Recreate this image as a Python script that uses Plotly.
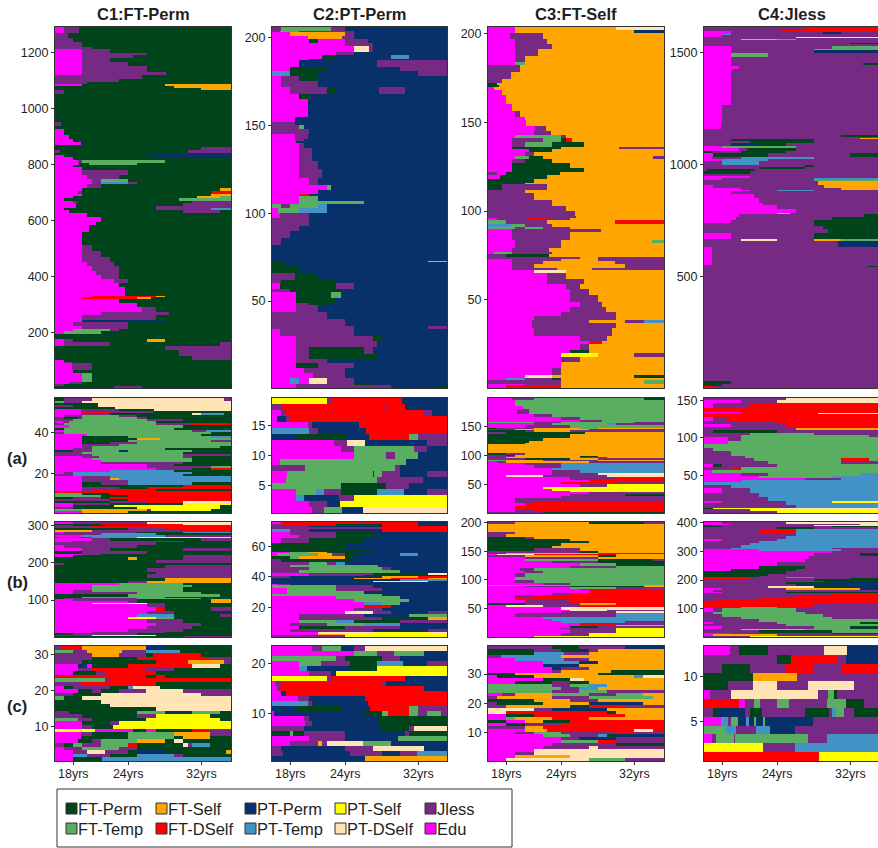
import re
import plotly.graph_objects as go

STATE_KEYS = list("FGSDPTYCJE")
STATE_NAMES = ["FT-Perm", "FT-Temp", "FT-Self", "FT-DSelf", "PT-Perm", "PT-Temp", "PT-Self", "PT-DSelf", "Jless", "Edu"]
STATE_COLORS = ["#00441b", "#5aae61", "#ffa500", "#ff0000", "#08306b", "#4292c6", "#ffff00", "#ffe4b5", "#762a83", "#ff00ff"]
COLUMN_TITLES = ["C1:FT-Perm", "C2:PT-Perm", "C3:FT-Self", "C4:Jless"]
ROW_LABELS = ["(a)", "(b)", "(c)"]
X_TICKS = [18, 24, 32]
X_LABELS = ["18yrs", "24yrs", "32yrs"]

# each row: "<top sequence index> <state><age at which the spell ends> ..."
C1_ROWS = """1290 E17 J18.7 F|1268 J17.4 F|1250 J18 F|1235 J19 F|1220 J20 F|1210 E18.9 J22 F|1198 E18.9 J26 F|1190 E18.9 J24.5 F|1178 E18.9 J22 F
1165 E18.9 J24 F|1150 E18.9 J26 F|1130 E18.9 J28.2 F|1118 J25.5 F|1105 J23 F|1092 J19.5 F|1086 E19 F28 S|1080 F29 S|1072 F32 S|1065 J17 F|1050 F|950 J16.7 F|935 F
925 E17 F|905 E17.5 F|890 E18 F|880 E18.8 F|870 F|860 F32 J|850 J16.5 F30.5 J|840 F26 P|832 E17 F27 P|825 E18 F|815 E18.5 J19 G28 F|805 E18.7 F19.7 G25 F
798 E18 F|790 E18.9 F|780 E18.9 J24 F|770 E18.9 J24 F|760 E19.5 J23 F|748 E20 J21 G24 F|738 E20 J21 T24 J25 F|728 E19.5 J21 F|715 E18.9 F34 S|705 E18.5 J19 F33 D
695 E19 F33 S|688 E18 F31.5 S34 G|680 E17 F29.5 G|668 E18 J18.5 F31 J|660 E18.3 F30 J|650 E18.3 F27 J|643 E17 F27 J33 T|637 E17.5 F30 J34 F|625 E19.5 F
610 E21 F|595 E20.5 F|581 E19.7 F|557 E18.9 F|510 E18.9 J20 F|490 E18.9 J21 F|470 E19 J22 F|450 E19.5 J22.5 F|435 E20 J23 F|420 E20.5 J23 F|405 E21 J23 F
390 E22.5 J24 F|375 E23 F|360 E23.7 F|330 E20 D27 S28 F|325 E19 D25 S26.5 F|320 E23 F|305 E25 F|290 E25.5 J27 F|272 E21 J28.5 F|260 E19 J27 F|245 E18.9 P28 F|235 E18 J24 F
222 E19 J24 F|213 E18 G22 J23 F|205 E17 G21 F|195 F|175 E17 J18 F26 S28 F|165 E17 J22 F34 J|150 F28 J|135 F29.5 J|115 F31 J|100 E17 F|95 E17 J18 F
90 E17.8 J20 F|65 E18 F|55 E18.9 G20 F|22 E17.5 J19 F|15 J17 F|8 F22.5 J25.5 F"""

C2_ROWS = """206 J17 G22.5 J24 P|204 J16.8 G19 J25 P|203 E18 S24 J25 P|201 E19.9 S23.7 J25 P|199 E20 F21 E24 J26.5 P|197 E24 J27 P|195 E25 C26.6 J27 P|192 E23 J25 P|190 E21.5 F23 P29 T31 P
188 E20 F22 P|187 E19 P27.5 J|183 E18 F22 P30 J|181 T18 F21 P32 J|178 E17 J19 F21 P|175 E17 J21 P|172 E18 J22 F23 P27.7 J30.5 P|168 E19 F20 P|165 E19.9 P
155 E18.5 P|152 J18.5 P|150 J19 G19.5 P|148 J20 P|145 E18.5 J19.9 P|142 E18.5 J19.5 P|141 E18.7 P|140 E19 J19.5 P|137 E19 J20.4 P|130 E19 J21 P|125 E19 J21.5 P|120 E20 J21 P
116 E22 G22.5 P|113 E21 P|111 E18.9 D20 P|110 E18.9 G21 P|107 E19 G26 P|105 G17 J18 G21 T22 P|103 E16.7 G19 T22 P|100 E16.8 J20 P|97 J20 P|93 J19 P|90 J18 P|86 J17 P|82 P
73 P33 S|72 F17.5 P|70 F19 P|66 J18.5 F21 P|62 J17 F23 P|60 E16.8 F23 J25 P|57 J18 F23.5 P|55 E18.7 F22.5 G23.5 P|52 E18.7 F23 P|49 E18.7 J20 F22 P|48 E18.7 J21 P
44 J22 P|40 J24 P|36 J25 P33 J|34 E16.8 J25 P|30 E18.7 J27 F28 P|27 E18.7 J27.5 P|24 E18.7 J20 F26 J27 P|20 E18.7 J20 F27.5 P|17 E18.7 J22 P|15 E18.7 F21 J25 P
12 E19.5 J24 P|9 E20.5 J24 P|6 E18 T19 E20 C22 J25 P|3 E18.7 J25 F27 P|2 E18.7 J29 P34 F"""

C3_ROWS = """203 E19 S30 C|202 E19 S31.9 P|200 E18.4 J22 S|197 E18.9 J22.5 S|194 E18.9 J23 S|191 E18.9 J21.5 S|187 E18.9 J20 S|184 E18.9 G20 S|182 J19.5 S|178 J18.5 S|174 J17.5 S
172 F17 S|171 F17.2 S|170 E16.7 S|168 E17.5 S|165 E18 S|160 E18.7 S|156 E19 J19.5 S|153 E20 S|151 E20.2 S|148 E21.2 J22.3 S|145 E21 J22.8 S|143 E19 G24 J24.5 S
141 E18.7 J22 G24 F24.5 D25.2 S|139 E18.7 J20 G23 F26.5 S|136 E18.7 F24 S30.3 J|135 E20.5 F23 S|133 E20 J21 S|131 E19 G20.5 F22 S34 J|129 E18.7 J20 F23 S
127 E18.7 F25 S|124 E18.7 F26.5 S|122 J17 E18 F23.8 S|120 E17.3 F22.5 S|118 F21 S|116 F20 S|115 F17.5 J22.5 S|112 J20 S|110 J21 S|106 J23 S|103 J24.5 S|100 J25.5 S|97 J25.6 S
96 E17 J20.4 D22.5 J25 S|95 G18 J22.5 S29.9 D|93 T18.5 G20 J23 S|91 G19 J20 G22 J25 S|90 E18.7 J28.3 S|88 E18.7 J25 S|84 E19 J24 S33.9 G|82 E19 J24 S|79 E18.7 J22.7 S
77 E16.7 G18.7 J23 S|76 J18 F22.7 S|74 J26 S28 J|73 E18.7 J24 S28 J|72 E18.7 J22 S29.9 J|70 E18.7 J21 S31 J|68 E18.7 J23.5 S27.4 J|67 E21 C24.5 S|65 E22.5 J24.5 S
62 E22.5 J26.5 S|59 E24.5 J26 S|56 E25 J27 S|53 E25 J28 S|49 E26 J28.5 S|46 E25 J28.9 S|43 E24 J30 S|41 E21 J30 S|39 E20.8 J27 S31 J33 T|37 E20.8 J30 S|34 E21 J29.5 S
30 E26 J29 S|27 E27 D28.5 S|25 E26 J27 S|22 E25 F27 S|20 E24 Y28 S32 J|18 E24 J26 S|15 E24 S|12 E23 J24 S|8 E20 C23 S32 F|6 E18 T20 J23 F24 S|5 J24 S33 G|3 E20 J24 S|2 E18 D24 S"""

C4_ROWS = """1618 J27 D|1605 J24.5 D|1598 E18.9 J28 D|1592 E18.9 J29 P31 J|1585 E18 T18.9 J|1578 E18 J|1572 J26 C|1566 J|1562 J20 S24 G26 J|1555 J|1545 J32 F|1540 J|1530 E18.9 J30 G|1515 E18.9 J28 G|1510 E18.9 J28 P|1497 E18.9 G23 J
1480 E18.9 J|1452 E18.9 J33.4 F|1445 E18.9 J|1440 E19.8 J|1425 E18.9 J|1265 E17.9 J|1180 E17.8 J|1160 J|1130 J31 F|1124 J|1120 J33 S|1116 J|1113 J19 F28 J|1105 J21 F28 J
1097 J19 P22 F25 J|1085 E18 G26 J|1075 E19.8 J20.7 F26 J|1062 F17 J20 F25 J|1050 E17 F23 J32 F|1035 E16.8 J20 T28 J|1025 E18 T23 J|1015 J18 T22 J|1000 J27 F28 J|990 J22 F27 J
982 J16.3 F21.6 J|970 F21 J|957 J|950 E21 J|940 E18 J28 T|932 J28 G|925 J28.5 S|910 E17 J29.2 S|895 E20 J31 S|885 E21 J24 T28 J|880 E19 J|870 E21.4 J|850 E22 J|830 E22.5 J|817 E24 J
800 E26 J|785 E24 S25.4 J|780 E19.8 J33.5 F|765 E19.5 J30 F|750 E18.9 J28 F|738 J28 F|725 J29 F|710 J29.5 F|695 E19 J28 F|680 E19 J28 F|665 J20 C24 J28 S31 G|660 J30.5 P|650 J30.7 P
630 E16.9 J|550 J|545 J33.8 F|540 J|30 F19 J|20 F18 J|10 D17 J"""

A1_ROWS = """56 F17 J20 C34.5 J|55 G17 J19 C|54 F20.7 C|53 J18 F20.7 C|52 F22.6 C|51 E18.8 J23 F26.8 C|50 E18.8 D22 J26.8 F|49 E18.8 J22 F31 C32 T34.5 F|48 E17 J19 G23 J25 F|47 J17 F18.5 J19 G25 J26 F
46 J18 G26 J30 F|45 E16.8 J17.5 G27 F|44 J17 G27 J31 D|43 E17.5 G30 F|42 F17 G29 F|41 E17 G31 J32.5 T|40 J17 G33 F|39 E19.5 G32 F|38 E18.9 F24 G33 T|37 E18.9 F25 S27.5 G|36 E18.9 F24 G33 J
35 E18.9 F22 J25 G|34 E18.9 J23 G|33 E18.9 J20 G34 F|32 E18 J20 G28 F|31 F18 J20 G23 P24 G31 F|30 J19 G30 F|29 J20 G30 J|28 E19 J20.8 G30 J31 F|27 E20 G31 F|26 E21 G31 F|25 E21 J30 F
24 E26 J29 F|23 E26 J33 G|22 E27 J31 F33 D|21 E22 T29 F|20 E17 J18 T31 F|19 J18 T30 F|18 E19 J22 T|17 E19 J22 S23 T|16 E19 J24 T|15 E19 F21 J24 T31 F|14 E19 F30 D|13 E19 J23 F26 D
12 E18.9 J20 D27 F|11 D|10 G19 F22 D|9 G21 F24 D|8 F18 J21 F22 D|7 J22 F24 D|6 F22 J26 D30 C|5 E18 J22 F30 Y|4 E18 F22.5 Y34 F|3 J18 F25 Y34 F|2 G19 S26 J26.5 Y33 F|1 E19 S24 F"""

A2_ROWS = """19 Y22 J22.6 D30.2 P|18 J17 D28.4 J28.6 D30.5 P|17 E17 J17.4 D32.7 J33.5 P|16 E16.6 P17.6 J18 D|15 E19.9 J20.3 P25.5 D|14 T20.1 J21 P26.3 D|13 P18.7 F24 P26.6 D31 G32 J
12 E22.8 J24.2 C26.2 P32.9 J|11 E23.5 J25 G31.5 J33 P|10 E25 G28.5 J29.4 G32 P|9 E16.9 G30.7 P|8 J19.6 G29.4 J30 P|7 E17.7 G27 F27.2 G28 J30 P33 J|6 E17.6 G27.5 J32.5 P
5 G23.5 F28.4 J31 P|4 E18.7 G20.8 T21.7 J23.5 F27.5 T30.4 P33 J|3 E18.7 T19.5 P23.3 J25 Y|2 E20 J22 P23.4 Y|1 E20.3 J21.7 G23.7 P26 C"""

A3_ROWS = """199 E18.7 J21 G33 F|195 E19 G|185 E19.8 G|180 E19.2 J20.5 G|172 E21 J23 G|167 E24 J26 G|161 E26 J28.5 G|157 G21 J24 G32 J|155 E21 J23 G29 T30 J|152 E20 J25 G|148 F17 J21 S26 G28 S
146 J19 S27 J|143 F20 J21 S25 J|141 J18 F26.6 S|137 F25 S|130 F22 S|125 F20.5 S|122 P17 F20 S|120 S|104 F18 J20 S|101 J18 F19 S|99 J19 S26 F28 S|97 J18 S26 J29 S|95 J20 F25 S28 J
92 G18 S22 J28 S|90 E17 J18 S27 J|87 E20 J24 T|83 E21 J24 T|79 E23 T|75 E23 J26 T|70 E23 J28 C|66 E18 C22 J29 C|62 E25 J30 D|57 E27 D|54 E24 D30 J|50 E26 J29 Y|46 E22 Y|42 E23 Y|38 E25 Y
36 E27 J|34 E25 J31 F|30 E24 J|26 E19 J|22 E18.9 J21 D|18 E20 D|12 E19 D|8 E19 J21 D|4 E19 J24 D|2 J22 F"""

A4_ROWS = """152 J25 C|150 E20 J24 C|146 E17 J21 D|140 D|135 E20 D|133 D28.5 Y|132 D|128 E17 J18.5 D|122 J24 D|118 E19 J25 D|115 D17 J23 D|113 J26 S|111 J17 F24 J|107 J21 G28 J|104 J20 G34 J
101 E18.7 J20 G|96 E18.7 G|92 G|87 J17 G|83 J19 G|76 J20.5 G|73 J21.5 G31 D34 G|69 J23 G31 J|65 E17 F18 J24 G|62 J19 D20 G|58 E16.8 G|54 E20 J23 G33 T|50 E22 G30 T|47 E27 J31 T
44 E20 T|42 T21 T|38 J19 T|33 E18 J21 T|27 J22 T|22 J23 T|17 E18 J25 T30 Y|14 J25 T|11 J26 T|7 F17 Y24 C|6 J21 Y|3 J24 Y"""

B1_ROWS = """309 E18 J26 C|305 F21 D30 C|302 J18 F26 D|298 J20 D|293 F24 J28 D|288 S20 J30 D|284 E17 J25 F30 T|280 J21 T27 F|275 E19 T28 J|270 J20 T25 Y|266 E20 J22 F32 J|260 E18 J30 F|255 J27 F|248 E17 J25 F
240 E19 J22 F30 J|232 F19 J26 F|225 E19 J21 F|220 E18 F30 J|215 F24 S25 F30 J|208 F27 J|200 J17 F|195 F28 J|185 F26 J|175 F27 J|170 F26 J|160 F27 J|158 F28 S|152 F24 J26 S|146 E23 G30 F
140 E20 G31 F|134 E20 G30 F|128 E18 J20 G30 F|122 E18 J25 G32 F|115 F24 G34 F|108 F19 G28 F|105 F17 J25 G32 F|103 E18 J25 F33 S|97 E24 J25 F33 S|92 E20 C26 D28 F|88 E26 J28 F|80 E27 D28 F33 J
70 E26 J29 F|62 E25 T29 F34 J|55 E24 Y27 G29 F|48 E26 J30 F|38 E27 J32 F|30 E26 J31 F|22 E24 J30 F|15 E20 J28 F|10 F18 J25 F|7 J20 C27 F|2 F30 J"""

B2_ROWS = """76 E17 D25.5 J26 D32 P|74 J17 D23 F28 D32 P|73 J20 P28 D|72 J28 D|71 T18 J20 P28 D|69 E18 J23 F27 P|67 E19 J23 F28 P|65 E17 J20 F26 P|62 F24 P|58 F27 P|56 E18 G20 S22 F25 P
55 E16.5 G21 S22.6 J24 F26 P30 T32 P|53 F18 G19 S24 F25 P|51 J17 F25 P|49 J20 G22 J23 T24 P|47 J18 G27.6 P|46 J20 G28 J29 P|44 J19 G30 P|42 E20 J27 F33 C|41 E20 J26 P32 F
40 J18 P28 S32 D|39 P25 S29 D33 S|38 P30 T|37 P27 C33 P|36 P|35 E16.7 J18 P|34 G23 J27 P|32 E17.7 G23 J28 P|30 E17.7 G26 P|28 G28 P|27 E23 G30 P|25 E25 G31 P|23 E26 T28 G30 P
21 E26 D29 P|19 E25 J28 P|17 E24 C27 J29 P33 J|15 E19 J26 P31 G|13 E19 J28 F33 S|11 E19 G23 T25 F30 J|9 E18 J22 G26 T30 P|7 E19 F24 J30 P|5 E18 J27 P33 J|3 E21 C27 Y33 C|2 E21 S24 Y|1 J24 Y"""

B3_ROWS = """201 J19 S27 F33 J|197 S|190 S|183 J19 S|180 J18 S|175 F20 J21 S|172 F25 S|168 F27 S|164 F24 S|160 F23 S|155 F21 J26 S|151 J26 F28 S|147 J18 S28 D30 J|145 E17 C21 D30 S|143 J20 S28 F30 S
140 E20 J28 S|137 E20 G28 F34 J|133 E23 J28 F|130 E26 G30 F|125 E25 J30 G|120 E19.5 J21 G|115 E20 J22 G|112 E19 J20 G|105 E19 G|100 E19 J21 G|95 E22 J25 G|92 G33 S|90 E20 J25 F33 S|88 E25 G30 J
85 E26 D|82 E27 D|77 E23 J25 D|73 E19 J21 D|70 E19 D|65 E20 J25 D|60 F20 J26 S30 D|57 E18 C22 J26 D|53 E24 C|48 E25 C29 J|45 E24 J30 C|42 E19 J30 T|36 E22 T|32 E23 T|28 E24 T31 J
25 E26 D30 J|22 E26 J30 S|19 E25 F28 J|16 E24 J30 Y|14 E25 J30 Y|8 E24 J27 Y|3 E21 Y"""

B4_ROWS = """402 E18 J25 C|396 E19 J33 C|392 F17 J28 C|388 F18 J30 F|384 J24 F28 J|380 J22 D26 T|365 J26 T|355 J25 T|345 E18 J24 T|335 J22 T|328 J21 T|322 J20 T|313 J19 T30 J|308 E22 T31 J|303 E30 J
295 E28 J33 F|285 E27.5 J|272 E27 J|262 E24 J|255 E24 J|250 E22 F27 J|240 E19 F26 J|232 F25 J|222 F23 J|215 F22 J|212 J25 T28 J|207 D21 J32 F|203 J28 F|197 J29 F|192 J25 F30 P|185 J26 P
180 J23 C28 F32 P|172 E18 J25 S33 P|165 E17 J32 J|158 E18 J25 F|153 J30 D|143 J26 D|137 J22 D|132 J17 D|125 D|118 D28 J|106 J20 G24 J|102 E17 J18 G26 J|88 J17 G27 J|80 J18 G29 J|72 J20 G30 J
65 J22 G|53 E17 J24 G33 F|46 J25 G|38 E18 J28 G32 F|30 J20 S27 G|24 J22 F30 G|16 E19 J30 F|10 E17 S24 J|5 J21 Y"""

C1C_ROWS = """32 J16.7 D19 S25.9 P28 F|31 G18 J19.5 S23.3 J26 T29.7 F|30 J20 S23 J26 F26.7 D32 F|29 J20 F25 D33 J|28 J19 F27 D30.5 S34.5 J|27 E18.5 P19.5 E20 F24 D31 C34 F|26 E18.5 J20 D26 J29 F
25 E18 F20.5 J21.5 D27 F|24 D26 F27 D28 F|23 G21.5 J22 D|22 J19 D27 F|21 E17 F18 J22 F24 T24.5 C27.5 F|20 E18.5 F20 J21 F23 J26 C30 J|19 J18 F21 C32 J|18 G17 F19 C|17 F21 C|16 F22 C|15 F27 C
14 J17.5 F25 G28 P31 G34 F|13 J19 F25 J27 Y33 F|12 G18.5 J20 F26 Y34 F|11 E18.9 F22 J23 Y|10 E18.9 J20 F22.3 Y|9 Y20.3 E24.5 F26 E27 F31 D33 J|8 E18.8 J20 F24 G29 S33 J|7 E18.8 F24 G29 F30 S33 F
6 E18.5 F20 J21 G25 S28 F29 C30 F|5 J17 F18 G19 J21 G24 D25 F30 C30.5 J31 T33 F|4 E17 J19 G23 J25 F|3 E18 J19.5 C21.5 J24 F25 P28 F34.7 S|2 E18 T19.5 J22 F25 T29 J30 F|1 E18 F21.2 T"""

C2C_ROWS = """23 E20.4 J21.4 G23.5 P25 J26.2 C|22 E25 G27.5 J29.3 G32.7 P|21 G23 J24 F28 J30 P|20 E19 G21.3 J24.6 F27.5 T30.3 P33 J|19 E19 T19.8 P24.5 F27.5 Y|18 E20 J22.5 P23 Y|17 Y22 J22.6 D30.5 P
16 E16.3 J17 D28 J28.5 P|15 E16.5 J16.8 D32.7 P|14 E17 P17.5 D|13 E18.8 J20.1 P26.2 D|12 T19.9 J20.4 P26.5 D|11 P18.7 F23.6 P26.7 D31 G32 J|10 E16.2 P26 F28 G28.7 D31 G32 J33 G34.5 J
9 E19.5 J20 P27.6 F|8 E19.6 J20.4 P27.6 F|7 J19.5 P28 F31 J31.5 C|6 F18 G18.3 F19.5 J24 P30.5 J31 F|5 E20 J24 P29.8 G|4 E17.9 J21 S21.5 J22 C26 G29 P|3 J17 P24 J27 C32.7 P|2 J17.2 P24.5 J28 P30 J31.8 T|1 P26.2 S"""

C3C_ROWS = """39 J23 F26 J31 P|38 F21 J24 F27 J28 S|37 F21 T24.3 J27 S|36 J17.4 T24 S|35 E19 T24.3 J27 S|34 E22 T26 P28 S|33 E22 P26 S|32 E23 P24 J27 S|31 E23 J24 S29.5 F|30 F19 S28 F|29 E17 F21 S32 T33 C
28 E22 F25 C26.5 S|27 E19 F23 J25 F27 S|26 G23 J25 G27 T29 S|25 G24 J26 T28 S|24 G23 J26 G29 J|23 E17.6 J19 S23 G27 J30 G33 S|22 J17 S23 J27 G34 S|21 F21 S25 J28 S|20 J17 F22 S27 P33 S
19 J18 S25 F27 D31 J|18 C21 J23 P29 S|17 C18 D29 F30 S|16 E18 F21 D31 S|15 E18 G19 S23 D27 S|14 F18 E20 S22 F25 D|13 E18 F20 J24 D|12 J20 S22 D|11 E20 S22.5 D32 C34 D
10 E19 J21 G24 J30 D32 J|9 E22 G25 J28 T29 F30 P|8 E24 J26 P30 J|7 E24 G28 D30 J|6 E23 J30 F|5 E22 J27 C28 J|4 E21 C|3 E19 J21 C|2 E19 S25 C|1 E18 C27 G31 J"""

C4C_ROWS = """13 E18.8 J19.8 F23 J29.1 C31.7 P|12 J24 F25.5 D30.5 J31.5 P|11 J18 F21 J25 D28 J31 D|10 F21.3 S26.2 J|9 F18.7 J21.3 C24 J27.4 C32.4 J|8 E16.7 J19 C28.4 J29.6 G30.2 F30.5 J
7 D19.8 E20.5 J21.5 G22.2 J24 G25.3 J29.5 G31.5 F33.5 J|6 J17 F17.5 P20.5 J21 F22.3 J27 F29.7 J30 T30.4 G31.3 J32.4 F|5 E17.8 T18.6 J19 G19.7 P20.6 T20.9 P21.4 G21.7 P22.4 G22.7 P27.9 J
4 G18.4 T19.5 J21.7 T23.2 P26 J|3 E16.8 J17.3 G19.3 J19.4 G27.4 J29.5 T|2 Y22.4 J26 T|1 D28.6 Y"""

PANELS = [
    [C1_ROWS, C2_ROWS, C3_ROWS, C4_ROWS],
    [A1_ROWS, A2_ROWS, A3_ROWS, A4_ROWS],
    [B1_ROWS, B2_ROWS, B3_ROWS, B4_ROWS],
    [C1C_ROWS, C2C_ROWS, C3C_ROWS, C4C_ROWS],
]
Y_TOPS = [[1290, 206, 203.5, 1615], [57, 19.5, 199, 153], [310, 76, 201, 403], [32.5, 23.5, 39.5, 13.5]]
Y_TICKS = [
    [[200, 400, 600, 800, 1000, 1200], [50, 100, 150, 200], [50, 100, 150, 200], [500, 1000, 1500]],
    [[20, 40], [5, 10, 15], [50, 100, 150], [50, 100, 150]],
    [[100, 200, 300], [20, 40, 60], [50, 100, 150, 200], [100, 200, 300, 400]],
    [[10, 20, 30], [10, 20], [10, 20, 30], [5, 10]],
]

W, H = 878, 848
COL_PX = [(55, 231), (272, 447), (488, 664), (704, 878)]
ROW_PX = [(27, 388), (398, 513), (522, 637), (646, 761)]
PX_PER_YEAR = 9.15
AGE0 = 16.0
COL_MONTHS = 231
AGE_EDGES = [AGE0 + m / 12 for m in range(COL_MONTHS + 1)]
INK = "#1f1f1f"
FONT = "Liberation Sans"


def parse_panel(text):
    tops, cells = [], []
    for raw in re.split(r"[|\n]", text):
        raw = raw.strip()
        if not raw:
            continue
        head, runs = raw.split(" ", 1)
        row, cursor = [], 0
        for key, end in re.findall(r"([A-Z])(\d+\.?\d*)?", runs):
            stop = COL_MONTHS if not end else min(COL_MONTHS, max(0, round((float(end) - AGE0) * 12)))
            if stop > cursor:
                row += [STATE_KEYS.index(key)] * (stop - cursor)
                cursor = stop
        if cursor < COL_MONTHS:
            last = row[-1] if row else 8
            row += [last] * (COL_MONTHS - cursor)
        tops.append(float(head))
        cells.append(row)
    return tops, cells


n = len(STATE_COLORS)
scale = []
for i, c in enumerate(STATE_COLORS):
    scale += [[i / n, c], [(i + 1) / n, c]]

fig = go.Figure()
layout = {}
for r in range(4):
    for c in range(4):
        idx = r * 4 + c + 1
        tops, cells = parse_panel(PANELS[r][c])
        ytop = Y_TOPS[r][c]
        uppers = [min(ytop, t + 0.5) if ytop < 100 else min(ytop, t) for t in tops]
        uppers[0] = ytop
        edges = [0.5] + uppers[::-1]
        fig.add_trace(go.Heatmap(
            x=AGE_EDGES, y=edges, z=cells[::-1], zmin=-0.5, zmax=n - 0.5,
            colorscale=scale, showscale=False, hoverinfo="skip",
            xaxis=f"x{idx}", yaxis=f"y{idx}",
        ))
        x0, x1 = COL_PX[c]
        y0, y1 = ROW_PX[r]
        bottom = r == 3
        layout[f"xaxis{idx}"] = dict(
            domain=[x0 / W, x1 / W], anchor=f"y{idx}",
            range=[AGE0, AGE0 + (x1 - x0) / PX_PER_YEAR],
            showgrid=False, zeroline=False, showline=True, linecolor="#333333", linewidth=1,
            mirror=True, ticks="outside" if bottom else "", ticklen=3, tickcolor="#333333",
            tickvals=X_TICKS if bottom else [], ticktext=X_LABELS if bottom else [],
            showticklabels=bottom, ticklabelstandoff=-2 if bottom else 0,
            tickfont=dict(family=FONT, size=12.5, color=INK),
        )
        layout[f"yaxis{idx}"] = dict(
            domain=[1 - y1 / H, 1 - y0 / H], anchor=f"x{idx}",
            range=[0.5, ytop],
            showgrid=False, zeroline=False, showline=True, linecolor="#333333", linewidth=1,
            mirror=c != 3, ticks="outside", ticklen=3, tickcolor="#333333",
            tickvals=Y_TICKS[r][c], tickfont=dict(family=FONT, size=12.5, color=INK),
        )

annotations, shapes = [], []
for c, title in enumerate(COLUMN_TITLES):
    mid = sum(COL_PX[c]) / 2 if c < 3 else 792
    annotations.append(dict(x=mid / W, y=1 - 14 / H, xref="paper", yref="paper", text=f"<b>{title}</b>",
                            xanchor="center", yanchor="middle", showarrow=False,
                            font=dict(family=FONT, size=16.5, color=INK)))
for label, py in zip(ROW_LABELS, [458, 582, 706]):
    annotations.append(dict(x=17 / W, y=1 - py / H, xref="paper", yref="paper", text=f"<b>{label}</b>",
                            xanchor="center", yanchor="middle", showarrow=False,
                            font=dict(family=FONT, size=16.5, color=INK)))

# legend frame, swatches and names
shapes.append(dict(type="rect", xref="paper", yref="paper", x0=57 / W, x1=512 / W, y0=1 - 847 / H, y1=1 - 789 / H,
                   line=dict(color="#333333", width=1), fillcolor="white"))
LEG_X = [66, 156, 245, 335, 425]
LEG_Y = [803, 823]
LEG_ORDER = [[0, 2, 4, 6, 8], [1, 3, 5, 7, 9]]
for j, row in enumerate(LEG_ORDER):
    for i, s in enumerate(row):
        sx, sy = LEG_X[i], LEG_Y[j]
        shapes.append(dict(type="rect", xref="paper", yref="paper", x0=sx / W, x1=(sx + 11) / W,
                           y0=1 - (sy + 11) / H, y1=1 - sy / H, fillcolor=STATE_COLORS[s],
                           line=dict(color="#333333", width=1)))
        annotations.append(dict(x=(sx + 12) / W, y=1 - (sy + 5.5) / H, xref="paper", yref="paper",
                                text=STATE_NAMES[s], showarrow=False, xanchor="left", yanchor="middle",
                                xshift=-2, font=dict(family=FONT, size=16.5, color=INK)))

fig.update_layout(width=W, height=H, margin=dict(l=0, r=0, t=0, b=0, autoexpand=False),
                  paper_bgcolor="white", plot_bgcolor="white",
                  showlegend=False, annotations=annotations, shapes=shapes, **layout)
fig.write_html("out.html", config={"displayModeBar": False},
               post_script="document.body.style.margin='0';document.body.style.overflow='hidden';")
